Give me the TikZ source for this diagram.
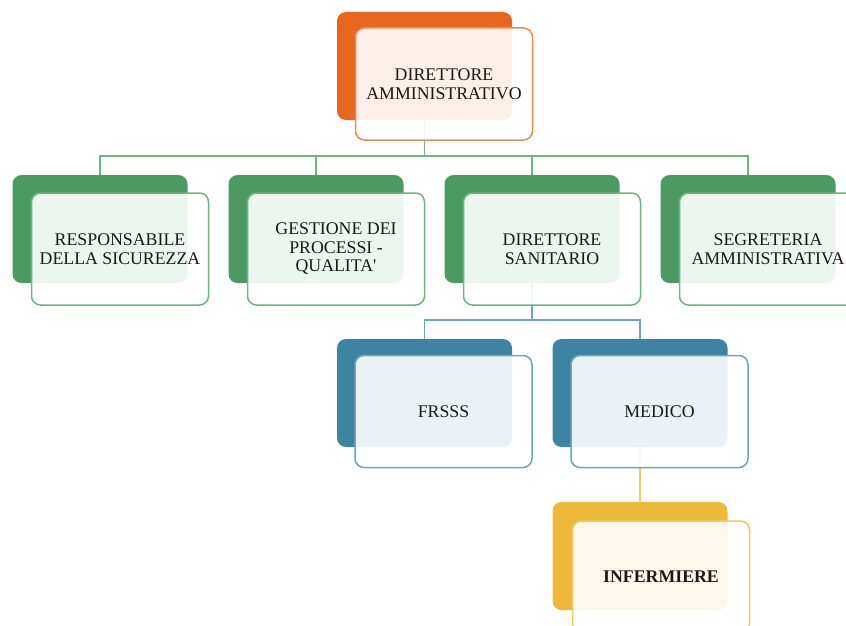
\documentclass[tikz,border=0pt]{standalone}
\usepackage{fontspec}
\setmainfont{Liberation Serif}
\usepackage{tikz}

\definecolor{orgback}{HTML}{E8671E}
\definecolor{orgline}{HTML}{EE8B50}
\definecolor{grnback}{HTML}{4A9A62}
\definecolor{grnline}{HTML}{6CB580}
\definecolor{bluback}{HTML}{3D84A3}
\definecolor{bluline}{HTML}{6CA5C2}
\definecolor{yelback}{HTML}{EEB83A}
\definecolor{yelline}{HTML}{F3C865}

\begin{document}
\begin{tikzpicture}[x=1pt,y=-1pt]
			\tikzset{backbox/.style = {rounded corners=9pt, fill=#1, minimum width=175pt, minimum height=108pt, inner sep=0pt}}
			\tikzset{frontbox/.style = {rounded corners=9pt, draw=#1, line width=1.5pt, fill=white, fill opacity=0.9, text opacity=1,
				minimum width=177pt, minimum height=112pt, inner sep=0pt, align=center, text=black!90,
				font=\fontsize{17.8}{18.5}\selectfont}}
			\tikzset{link/.style = {draw=#1, line width=1.8pt}}
			\useasboundingbox (0,0) rectangle (846,626);
			\clip (0,0) rectangle (846,626);
			% back boxes
			\node[backbox=orgback] (amm) at (424.5, 66) {};
			\node[backbox=grnback] (resp) at (100, 229) {};
			\node[backbox=grnback] (gest) at (316, 229) {};
			\node[backbox=grnback] (san) at (532, 229) {};
			\node[backbox=grnback] (segr) at (748, 229) {};
			\node[backbox=bluback] (frsss) at (424.5, 393) {};
			\node[backbox=bluback] (med) at (640, 393) {};
			\node[backbox=yelback] (inf) at (640, 556) {};
			% edges
			\draw[link=grnline] (amm.south) -- ++(0,36) -| (resp.north);
			\draw[link=grnline] (amm.south) ++(0,36) -| (gest.north);
			\draw[link=grnline] (amm.south) ++(0,36) -| (san.north);
			\draw[link=grnline] (amm.south) ++(0,36) -| (segr.north);
			\draw[link=bluline] (san.south) -- ++(0,37) -| (frsss.north);
			\draw[link=bluline] (san.south) ++(0,37) -| (med.north);
			\draw[link=yelline] (med.south) -- (inf.north);
			% front boxes
			\node[frontbox=orgline] (ammtxt) at (444, 84) {DIRETTORE\\AMMINISTRATIVO};
			\node[frontbox=grnline] (resptxt) at (120, 249) {RESPONSABILE\\DELLA SICUREZZA};
			\node[frontbox=grnline] (gesttxt) at (336, 249) {GESTIONE DEI\\PROCESSI -\\QUALITA\textquotesingle};
			\node[frontbox=grnline] (santxt) at (552, 249) {DIRETTORE\\SANITARIO};
			\node[frontbox=grnline] (segrtxt) at (768, 249) {SEGRETERIA\\AMMINISTRATIVA};
			\node[frontbox=bluline] (frssstxt) at (443.5, 411.5) {FRSSS};
			\node[frontbox=bluline] (medtxt) at (659.5, 411.5) {MEDICO};
			\node[frontbox=yelline, font=\fontsize{17.8}{18.5}\selectfont\bfseries] (inftxt) at (661, 577) {INFERMIERE};
		\end{tikzpicture}
\end{document}
